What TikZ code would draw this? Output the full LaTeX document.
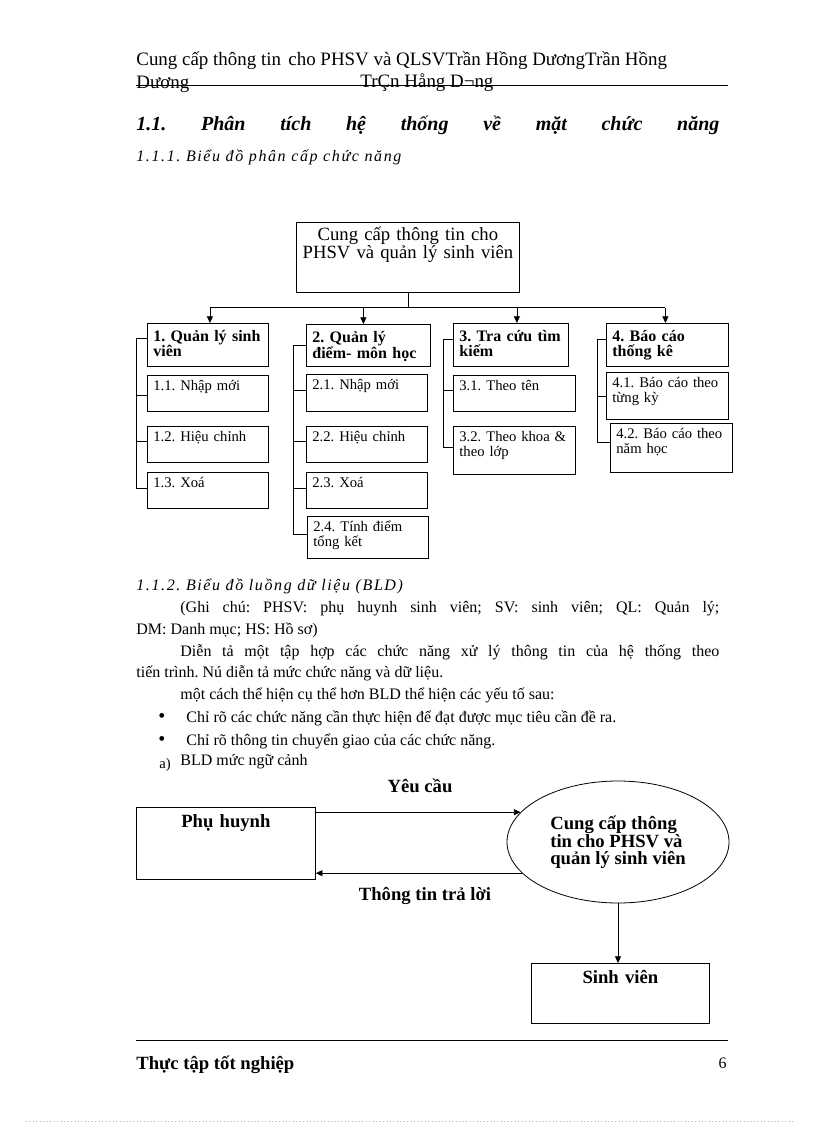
\documentclass[tikz,border=0pt]{standalone}
\usepackage{fontspec}
\setmainfont{Liberation Serif}
\usetikzlibrary{shapes.geometric,arrows.meta,calc}

\newcommand{\spreadline}[2]{\makebox[#1][s]{#2}}
\frenchspacing

\begin{document}
\begin{tikzpicture}[x=0.75pt, y=-0.75pt, line width=0.6pt,
  txt/.style={anchor=base west, inner sep=0pt, font=\fontsize{12}{14}\selectfont},
  hdr/.style={txt, font=\fontsize{14.2}{16}\selectfont},
  subhead/.style={txt, font=\fontsize{12}{14}\selectfont\itshape\addfontfeatures{LetterSpace=10}},
  rootbox/.style={draw, anchor=north west, align=center, inner xsep=4pt, inner ysep=0pt, text width=159.25pt, text height=13.5pt, text depth=39pt, font=\fontsize{14}{12.75}\selectfont},
  funcbox/.style={draw, anchor=north west, align=left, inner xsep=4.5pt, inner ysep=0pt, text height=13.5pt, font=\fontsize{12}{11.25}\selectfont\bfseries},
  subbox/.style={draw, anchor=north west, align=left, inner xsep=4.5pt, inner ysep=0pt, text height=11.5pt, font=\fontsize{11}{11.25}\selectfont},
  dfdbox/.style={draw, anchor=north west, align=center, inner sep=0pt, text height=15pt, font=\fontsize{14}{16}\selectfont\bfseries},
  procnode/.style={draw, ellipse, inner sep=0pt, minimum width=166.5pt, minimum height=91.5pt, align=left, font=\fontsize{14}{12.75}\selectfont\bfseries},
  flowlabel/.style={anchor=base, inner sep=0pt, font=\fontsize{14}{16}\selectfont\bfseries},
  arrowstyle/.style={-{Triangle[length=5pt,width=4.5pt]}}
]
\path[fill=white] (0,0) rectangle (816,1123);
\useasboundingbox (0,0) rectangle (816,1123);

% header
\node[hdr] (hdr1) at (136,66) {Cung cấp thông tin\hspace{2pt} cho PHSV và QLSVTrần Hồng DươngTrần Hồng};
\node[hdr] (hdr2) at (136,89) {Dương};
\node[hdr] (hdr3) at (360,88) {TrÇn Hång D¬ng};
\draw (136,85) -- (728,85);

\node[txt, font=\fontsize{15}{17}\selectfont\bfseries\itshape] (sec) at (136,131)
  {\spreadline{437.25pt}{1.1. Phân tích hệ thống về mặt chức năng}};
\node[subhead] (sub1) at (136,162) {1.1.1. Biểu đồ phân cấp chức năng};

% cay chuc nang
\node[rootbox] (root) at (296,222) {Cung cấp thông tin cho\\PHSV và quản lý sinh viên};

\node[funcbox, text width=81.75pt, text depth=18.75pt] (c1) at (147,323) {1. Quản lý sinh\\viên};
\node[funcbox, text width=84pt, text depth=18pt] (c2) at (306,324) {2. Quản lý\\điểm- môn học};
\node[funcbox, text width=77.25pt, text depth=18.75pt] (c3) at (453,323) {3. Tra cứu tìm\\kiếm};
\node[funcbox, text width=82.5pt, text depth=18.75pt] (c4) at (606,323) {4. Báo cáo\\thống kê};

\node[subbox, text width=81.75pt, text depth=15.5pt] (c11) at (147,375) {1.1. Nhập mới};
\node[subbox, text width=81.75pt, text depth=15.5pt] (c12) at (147,426) {1.2. Hiệu chỉnh};
\node[subbox, text width=81.75pt, text depth=15.5pt] (c13) at (147,472) {1.3. Xoá};

\node[subbox, text width=81.75pt, text depth=16.25pt] (c21) at (306,374) {2.1. Nhập mới};
\node[subbox, text width=81.75pt, text depth=15.5pt] (c22) at (306,426) {2.2. Hiệu chỉnh};
\node[subbox, text width=81.75pt, text depth=15.5pt] (c23) at (306,472) {2.3. Xoá};
\node[subbox, text width=81.75pt, text depth=20pt] (c24) at (307,516) {2.4. Tính điểm\\tổng kết};

\node[subbox, text width=82.5pt, text depth=15.5pt] (c31) at (453,375) {3.1. Theo tên};
\node[subbox, text width=82.5pt, text depth=24.5pt] (c32) at (453,426) {3.2. Theo khoa \&\\theo lớp};

\node[subbox, text width=82.5pt, text depth=23.75pt] (c41) at (606,372) {4.1. Báo cáo theo\\từng kỳ};
\node[subbox, text width=82.5pt, text depth=25.25pt] (c42) at (610,423) {4.2. Báo cáo theo\\năm học};

\draw (root.south) -- ++(0,15) coordinate (bus);
\draw ([xshift=1.5pt]bus -| c1.north) -- ([xshift=-1.5pt]bus -| c4.north);
\foreach \n/\s in {c1/1.5,c2/-3.75,c3/4.5,c4/-1.5}
  \draw[arrowstyle] ([xshift=\s pt]bus -| \n.north) -- ([xshift=\s pt]\n.north);

\foreach \n/\d/\l in {c1/15/11,c11/20/11,c12/15/11,c13/16/11,
                      c2/21/13,c21/16/13,c22/15/13,c23/16/13,c24/18/14,
                      c3/16/10,c31/15/10,c32/21/10,
                      c4/16/9,c41/24/9,c42/19/13}
  \draw ($(\n.north west)+(0,\d)$) -- ++(-\l,0);
\draw ($(c1.north west)+(-11,15)$) -- ($(c13.north west)+(-11,16)$);
\draw ($(c2.north west)+(-13,21)$) -- ($(c24.north west)+(-14,18)$);
\draw ($(c3.north west)+(-10,16)$) -- ($(c32.north west)+(-10,21)$);
\draw ($(c4.north west)+(-9,16)$) -- ($(c42.north west)+(-13,19)$);

% van ban
\node[subhead] (sub2) at (136,590) {1.1.2. Biểu đồ luồng dữ liệu (BLD)};
\node[txt] (note1) at (180,612) {\spreadline{404.25pt}{(Ghi chú: PHSV: phụ huynh sinh viên; SV: sinh viên; QL: Quản lý;}};
\node[txt] (note2) at (136,634) {DM: Danh mục; HS: Hồ sơ)};
\node[txt] (desc1) at (180,656) {\spreadline{404.25pt}{Diễn tả một tập hợp các chức năng xử lý thông tin của hệ thống theo}};
\node[txt] (desc2) at (136,677) {tiến trình. Nú diễn tả mức chức năng và dữ liệu.};
\node[txt] (desc3) at (180,699) {một cách thể hiện cụ thể hơn BLD thể hiện các yếu tố sau:};
\node[txt] (bul1) at (158,722) {\makebox[21pt][l]{\fontsize{15}{14}\selectfont\textbullet}Chỉ rõ các chức năng cần thực hiện để đạt được mục tiêu cần đề ra.};
\node[txt] (bul2) at (158,745) {\makebox[21pt][l]{\fontsize{15}{14}\selectfont\textbullet}Chỉ rõ thông tin chuyển giao của các chức năng.};
\node[txt, font=\fontsize{11}{13}\selectfont] (itema) at (159,768) {a)};
\node[txt] (bldctx) at (180,765) {BLD mức ngữ cảnh};

% BLD muc ngu canh
\node[dfdbox, text width=134.25pt, text depth=39pt] (ph) at (136,807) {Phụ huynh};
\node[procnode] (proc) at (618,842) {Cung cấp thông\\tin cho PHSV và\\quản lý sinh viên};
\node[dfdbox, text width=133.5pt, text depth=30pt] (sv) at (531,963) {Sinh viên};

\draw[arrowstyle] (ph.east |- proc.163.5) -- (proc.163.5);
\draw[arrowstyle] (proc.198) -- (ph.east |- proc.198);
\draw[arrowstyle] (proc.south) -- (proc.south |- sv.north);
\node[flowlabel] (lreq) at (420,792) {Yêu cầu};
\node[flowlabel] (lans) at (425,900) {Thông tin trả lời};

% chan trang
\draw (136,1040) -- (728,1040);
\node[txt, font=\fontsize{14}{16}\selectfont\bfseries] (foot) at (136,1069) {Thực tập tốt nghiệp};
\node[txt, anchor=base east] (pageno) at (727,1068) {6};
\draw[gray!60, dotted] (26,1121) -- (795,1121);
\end{tikzpicture}
\end{document}
